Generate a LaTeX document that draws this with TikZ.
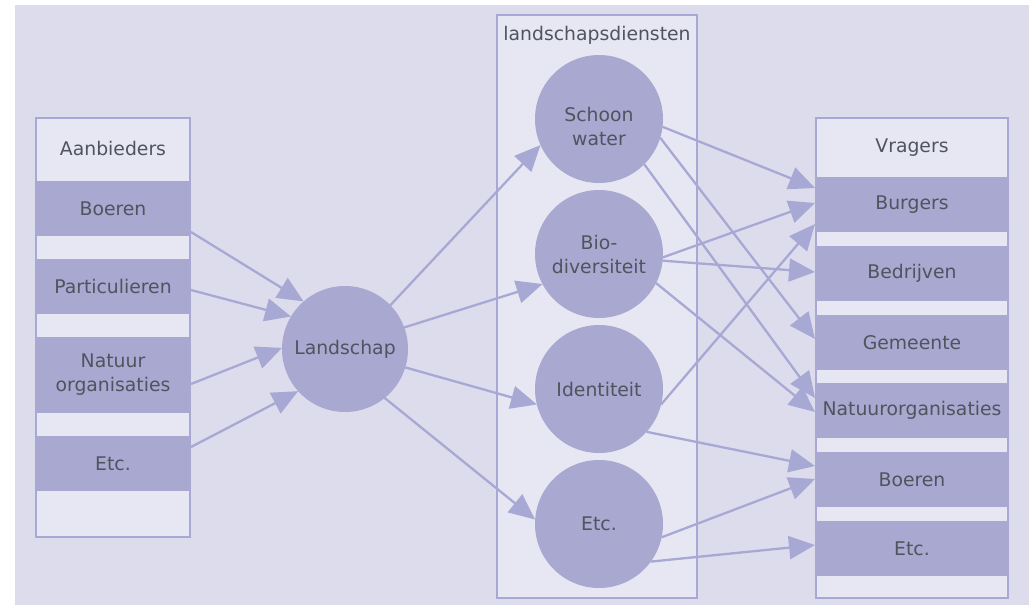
\documentclass[tikz,border=0pt]{standalone}
\usepackage{fontspec}
\setmainfont{DejaVu Sans}
\usetikzlibrary{arrows.meta}
\definecolor{bg}{HTML}{DDDCED}
\definecolor{boxfill}{HTML}{E7E7F4}
\definecolor{itemfill}{HTML}{A8A8D0}
\definecolor{linec}{HTML}{A8A8D4}
\definecolor{txt}{HTML}{4F545E}
\tikzset{
  lbl/.style={text=txt, inner sep=0pt, outer sep=0pt, align=center},
  panel/.style={fill=boxfill, draw=linec, line width=2pt, inner sep=0pt, outer sep=0pt},
  itembox/.style={lbl, fill=itemfill, minimum height=55pt},
  litem/.style={itembox, minimum width=156pt},
  ritem/.style={itembox, minimum width=194pt},
  circ/.style={lbl, circle, fill=itemfill, minimum size=128pt},
  arr/.style={draw=linec, line width=2.3pt, -{Triangle[length=26pt,width=23pt]}}
}
\begin{document}
\begin{tikzpicture}[x=1pt,y=-1pt,font=\fontsize{18.8}{24}\selectfont]
\useasboundingbox (0,0) rectangle (1034,605);
\fill[bg] (15,5) rectangle (1029,605);

% left panel
\node[panel, minimum width=154pt, minimum height=419pt] (lbox) at (113,327.5) {};
\node[lbl] (ltitle) at (113,148) {Aanbieders};
\node[litem] (lb1) at (113,208.5) {Boeren};
\node[litem] (lb2) at (113,286.5) {Particulieren};
\node[litem, minimum height=76pt] (lb3) at (113,374.5) {Natuur\\organisaties};
\node[litem] (lb4) at (113,463.5) {Etc.};

% right panel
\node[panel, minimum width=192pt, minimum height=480pt] (rbox) at (912,358) {};
\node[lbl] (rtitle) at (912,148) {Vragers};
\node[ritem] (rb1) at (912,204.5) {Burgers};
\node[ritem] (rb2) at (912,273.5) {Bedrijven};
\node[ritem] (rb3) at (912,342.5) {Gemeente};
\node[ritem] (rb4) at (912,410.5) {Natuurorganisaties};
\node[ritem] (rb5) at (912,479.5) {Boeren};
\node[ritem] (rb6) at (912,548.5) {Etc.};

% middle panel (fill)
\node[panel, draw=none, minimum width=200pt, minimum height=583pt] (mbox) at (597,306.5) {};
\node[lbl] (mtitle) at (597,35) {landschapsdiensten};

% circles
\node[circ, minimum size=126pt] (land) at (345,349) {Landschap};
\node[circ, label={[lbl, yshift=-7pt]center:Schoon\\water}] (sw) at (599,119) {};
\node[circ] (bio) at (599,254) {Bio-\\diversiteit};
\node[circ] (ide) at (599,389) {Identiteit};
\node[circ] (etc) at (599,524) {Etc.};

% arrows providers -> landscape
\draw[arr] ([yshift=-23.5pt]lb1.east) -- (land.131);
\draw[arr] ([yshift=-3.5pt]lb2.east) -- (land.149);
\draw[arr] ([yshift=-9.5pt]lb3.east) -- (land.179);
\draw[arr] ([yshift=16.5pt]lb4.east) -- (land.222.5);

% landscape -> services
\draw[arr] (land.44) -- (sw.204.5);
\draw[arr] (land.20) -- (bio.208);
\draw[arr] (land.-17.6) -- (ide.194.5);
\draw[arr] (land.-51) -- (etc.176);

% services -> demanders
\draw[arr] (sw.-7) -- ([yshift=16.5pt]rb1.west);
\draw[arr] (sw.-17) -- ([yshift=3.5pt]rb3.west);
\draw[arr] (sw.-45) -- ([yshift=12.5pt]rb4.west);
\draw[arr] (bio.-3) -- ([yshift=1.5pt]rb1.west);
\draw[arr] (bio.-6) -- ([yshift=1.5pt]rb2.west);
\draw[arr] (bio.-27) -- ([yshift=-1.5pt]rb4.west);
\draw[arr] (ide.-14) -- ([yshift=-19.5pt]rb1.west);
\draw[arr] (ide.-42) -- ([yshift=13.5pt]rb5.west);
\draw[arr] (etc.-12.5) -- ([yshift=0.5pt]rb5.west);
\draw[arr] (etc.-36) -- ([yshift=3.5pt]rb6.west);

% middle panel border on top
\draw[linec, line width=2pt] (mbox.north west) rectangle (mbox.south east);
\end{tikzpicture}
\end{document}
